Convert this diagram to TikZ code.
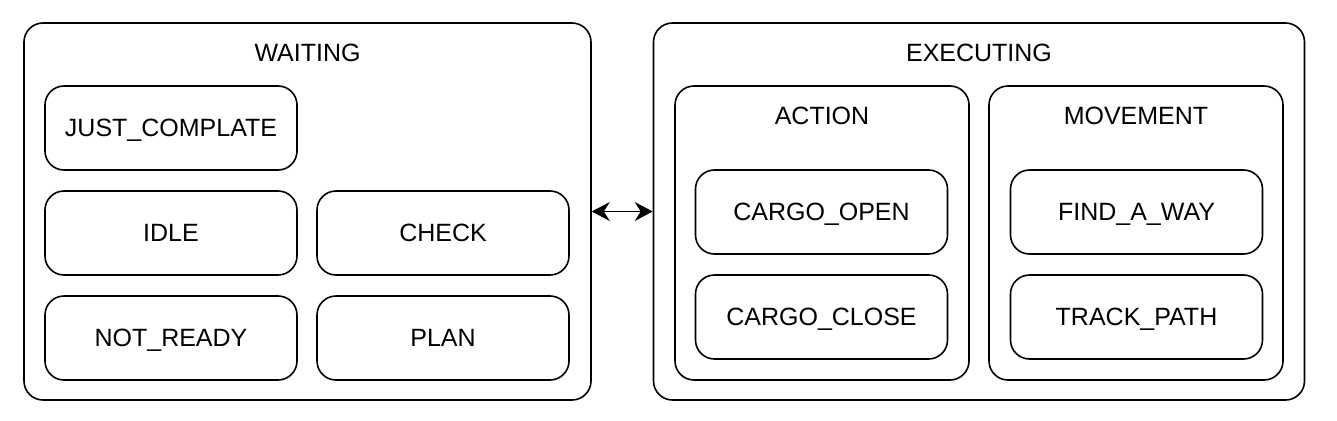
\documentclass[tikz,border=0pt]{standalone}
\usepackage{fontspec}
\setmainfont{Liberation Sans}
\usetikzlibrary{arrows.meta}

\begin{document}
\begin{tikzpicture}[x=1pt,y=-1pt,
    group/.style={draw,line width=1.6pt,rounded corners=19pt,minimum width=#1,minimum height=377pt,inner sep=0pt},
    subgroup/.style={draw,line width=1.6pt,rounded corners=19pt,minimum width=294pt,minimum height=294pt,inner sep=0pt},
    statebox/.style={draw,line width=1.6pt,rounded corners=19pt,minimum width=252pt,minimum height=84pt,
        inner sep=0pt,font=\fontsize{25}{30}\selectfont,text height=16pt,text depth=0pt},
    title/.style={anchor=base,inner sep=0pt,font=\fontsize{25}{30}\selectfont}]
    \useasboundingbox (0,0) rectangle (1337,420);

    % WAITING group
    \node[group=567pt] (waiting) at (307.5,211.5) {};
    \node[title] (waitingtitle) at (307.5,61) {WAITING};
    \node[statebox] (justcomplate) at (171,128) {JUST\_COMPLATE};
    \node[statebox] (idle)         at (171,233) {IDLE};
    \node[statebox] (check)        at (443,233) {CHECK};
    \node[statebox] (notready)     at (171,338) {NOT\_READY};
    \node[statebox] (plan)         at (443,338) {PLAN};

    % EXECUTING group
    \node[group=651pt] (executing) at (979,211.5) {};
    \node[title] (executingtitle) at (979,61) {EXECUTING};

    \node[subgroup] (action) at (822,233) {};
    \node[title] (actiontitle) at (822,124) {ACTION};
    \node[statebox] (cargoopen)  at (821.5,212) {CARGO\_OPEN};
    \node[statebox] (cargoclose) at (821.5,317) {CARGO\_CLOSE};

    \node[subgroup] (movement) at (1136,233) {};
    \node[title] (movementtitle) at (1136,124) {MOVEMENT};
    \node[statebox] (findaway)  at (1136.5,212) {FIND\_A\_WAY};
    \node[statebox] (trackpath) at (1136.5,317) {TRACK\_PATH};

    % link between the two groups
    \draw[line width=1.6pt,{Stealth[length=18pt,width=19pt,inset=6pt]}-{Stealth[length=18pt,width=19pt,inset=6pt]}]
        (waiting.east) -- (executing.west);
\end{tikzpicture}
\end{document}
